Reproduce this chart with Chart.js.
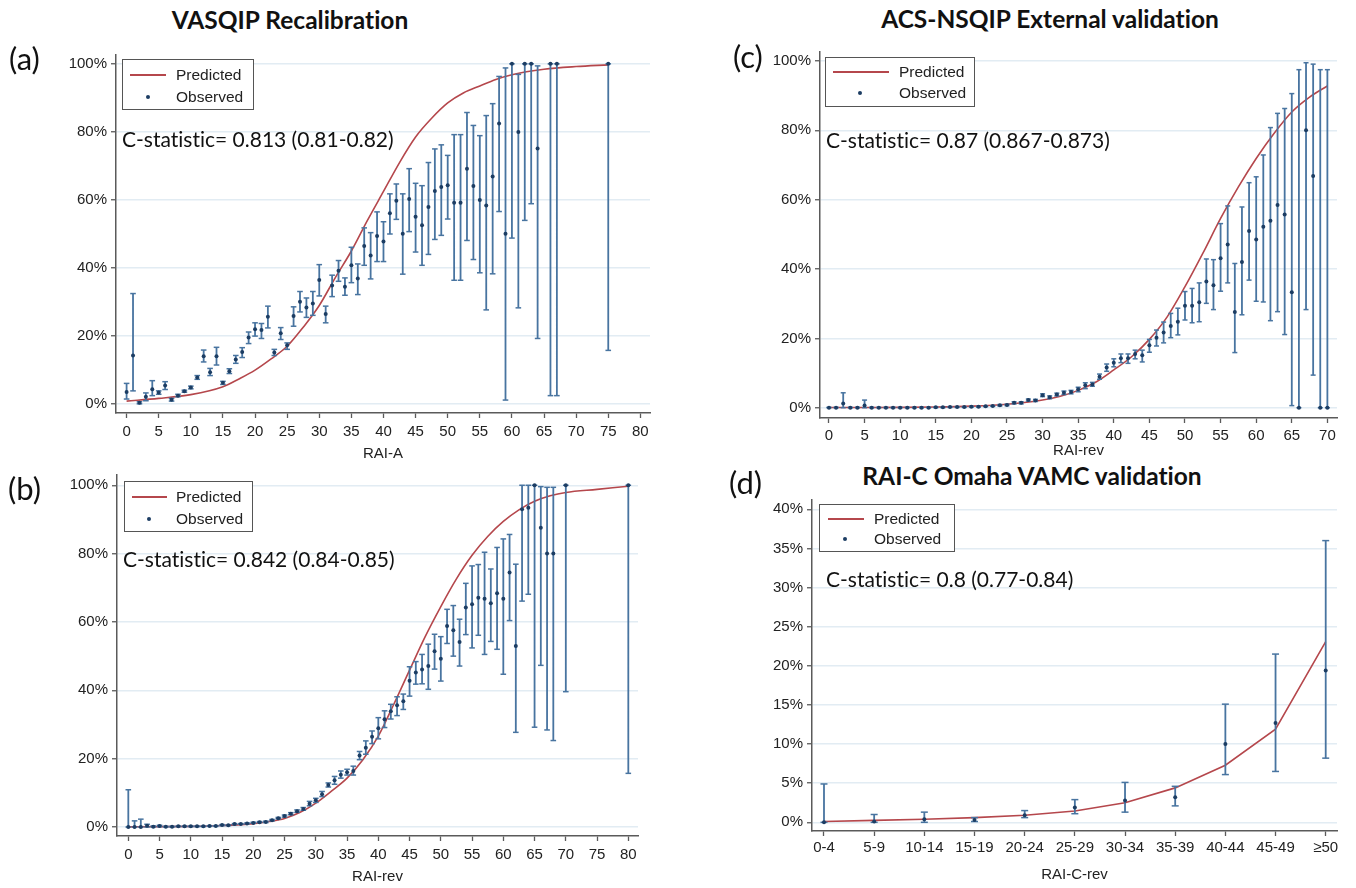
<!DOCTYPE html>
<html>
<head>
<meta charset="utf-8">
<script src="https://cdn.jsdelivr.net/npm/chart.js@4.4.0/dist/chart.umd.min.js"></script>
<style>
  body { margin: 0; background: #fff; width: 1356px; height: 888px; position: relative; overflow: hidden; font-family: "Liberation Sans", Arial, sans-serif; }
  canvas { position: absolute; }
  .txt { position: absolute; line-height: 1; white-space: nowrap; color: #111; font-variant-ligatures: none; }
  .title { font-family: Lato, sans-serif; font-weight: bold; font-size: 24.5px; }
  .letter { font-family: Lato, sans-serif; font-size: 31px; }
  .cstat { font-family: Lato, sans-serif; font-size: 21px; }
  .legend { position: absolute; border: 1px solid #555; background: #fff; }
  .legend .lbl { position: absolute; font-size: 15.5px; line-height: 1; color: #222; transform: translateY(-50%); }
  .legend .ln { position: absolute; height: 2px; background: #b5474c; transform: translateY(-50%); }
  .legend .dot { position: absolute; width: 4px; height: 4px; border-radius: 2px; background: #1c3d63; transform: translate(-50%, -50%); }
</style>
</head>
<body>
<canvas id="chartA" width="660" height="418" style="left:0px; top:45px;"></canvas>
<canvas id="chartB" width="648" height="421" style="left:0px; top:465px;"></canvas>
<canvas id="chartC" width="647" height="418" style="left:700px; top:42px;"></canvas>
<canvas id="chartD" width="647" height="394" style="left:700px; top:490px;"></canvas>
<script>
// (a) VASQIP recalibration, RAI-A
const aObsX = [0,1,2,3,4,5,6,7,8,9,10,11,12,13,14,15,16,17,18,19,20,21,22,23,24,25,26,27,28,29,30,31,32,33,34,35,36,37,38,39,40,41,42,43,44,45,46,47,48,49,50,51,52,53,54,55,56,57,58,59,60,61,62,63,64,66,67,75];
const aObs = [3.6,14.3,0.4,2.2,4.4,3.4,5.5,1.3,2.5,3.8,4.9,7.8,14.1,9.4,14.1,6.3,9.7,13.1,15.3,19.6,22.0,21.8,25.7,15.2,20.8,17.3,25.9,30.1,28.4,29.6,36.5,26.5,34.9,39.2,34.5,40.8,36.9,46.5,43.7,49.4,47.8,56.1,59.8,50.1,60.3,55.1,52.6,57.9,62.6,63.8,64.3,59.2,59.2,69.2,64.1,60.0,58.4,66.9,82.5,50.1,100,80.0,100,100,75.1,100,100,100];
const aLo = [1.5,3.9,0.1,1.0,2.5,2.9,4.3,0.9,2.2,3.5,4.5,7.3,12.4,8.4,11.5,5.8,9.0,12.0,13.7,17.8,20.0,19.3,22.4,14.3,19.0,16.1,22.9,27.1,25.5,26.1,31.8,23.9,31.6,36.1,32.0,35.7,32.2,40.8,36.8,41.9,41.9,50.0,54.3,38.2,50.7,44.7,40.8,44.0,48.4,49.6,54.4,36.4,36.4,48.1,42.5,38.6,27.7,38.3,56.6,1.2,48.8,28.3,54.0,58.9,19.3,2.5,2.5,15.8];
const aHi = [6.1,32.5,0.7,3.3,6.9,3.9,6.6,1.7,2.9,4.1,5.3,8.4,15.9,10.5,16.7,6.7,10.4,14.3,16.6,21.2,23.9,23.7,28.8,16.1,22.5,18.0,28.6,33.1,31.2,33.1,41.0,28.8,37.9,42.2,37.1,46.1,41.2,51.8,50.4,56.5,53.6,61.8,64.7,61.8,69.2,64.9,64.2,71.0,75.0,76.2,73.1,79.2,79.2,85.7,81.9,78.9,84.8,88.3,96.3,98.8,100,96.9,100,100,99.4,100,100,100];
const aPredX = [0,5,10,15,17.5,20,22.5,25,27.5,30,32.5,35,37.5,40,42.5,45,47.5,50,52.5,55,57.5,60,65,70,75];
const aPred = [0.9,1.7,2.8,5.1,7.4,10.0,13.3,17.0,22.6,29.0,37.2,45.0,54.0,62.5,71.0,78.5,84.0,88.5,91.5,93.5,95.4,96.8,98.4,99.2,99.7];
const aXTicks = [0,5,10,15,20,25,30,35,40,45,50,55,60,65,70,75,80];

// (b) VASQIP recalibration, RAI-rev
const bObsX = [0,1,2,3,4,5,6,7,8,9,10,11,12,13,14,15,16,17,18,19,20,21,22,23,24,25,26,27,28,29,30,31,32,33,34,35,36,37,38,39,40,41,42,43,44,45,46,47,48,49,50,51,52,53,54,55,56,57,58,59,60,61,62,63,64,65,66,67,68,70,80];
const bObs = [0,0,0,0.4,0.1,0.3,0.1,0.1,0.2,0.2,0.2,0.2,0.2,0.3,0.3,0.6,0.5,0.9,0.9,1.0,1.2,1.4,1.5,2.0,2.6,3.2,3.9,4.6,5.3,6.8,7.8,9.6,12.3,13.7,15.3,16.0,16.4,20.9,23.2,26.4,28.9,31.5,33.9,35.6,36.8,42.8,45.2,46.1,47.1,51.4,49.2,58.8,57.6,54.1,64.2,65.2,67.1,66.8,65.5,68.4,66.8,74.5,53.0,93.0,93.4,100,87.6,80.0,80.0,100,100];
const bLo = [0,0,0,0,0,0.1,0,0,0.1,0.1,0.1,0.1,0.1,0.2,0.2,0.4,0.4,0.7,0.8,0.9,1.1,1.3,1.3,1.8,2.4,2.9,3.6,4.3,4.9,6.2,7.2,8.9,11.7,12.5,14.3,15.2,15.2,19.7,21.3,24.4,25.8,29.1,31.6,32.6,34.4,38.3,41.8,41.9,40.3,46.2,42.7,53.7,50.0,47.1,56.3,52.4,56.1,50.5,54.3,52.0,44.7,60.4,27.7,66.1,68.1,29.2,47.3,28.4,25.3,39.6,15.7];
const bHi = [10.9,1.8,2.3,0.8,0.3,0.5,0.2,0.2,0.3,0.3,0.3,0.3,0.3,0.4,0.4,0.7,0.6,1.0,1.0,1.2,1.4,1.6,1.7,2.2,2.8,3.5,4.2,5.0,5.7,7.5,8.4,10.4,12.9,14.8,16.4,16.9,17.8,22.1,25.2,28.1,32.0,34.0,35.9,38.1,38.9,46.9,48.4,50.5,53.5,56.4,55.7,63.7,64.8,60.8,71.3,76.4,76.8,80.4,75.5,81.8,84.3,85.6,76.9,100,100,100,99.6,99.4,99.4,100,100];
const bPredX = [0,5,10,15,20,22.5,25,27.5,30,32.5,35,37.5,40,42.5,45,47.5,50,52.5,55,57.5,60,62.5,65,67.5,70,75,80];
const bPred = [0.05,0.1,0.2,0.45,1.0,1.6,2.5,4.3,7.0,10.5,14.3,19.6,26.6,36.0,45.9,55.7,64.5,72.6,79.5,85.0,89.4,92.8,95.3,96.9,97.9,98.8,99.7];
const bXTicks = [0,5,10,15,20,25,30,35,40,45,50,55,60,65,70,75,80];

// (c) ACS-NSQIP external validation, RAI-rev
const cObsX = [0,1,2,3,4,5,6,7,8,9,10,11,12,13,14,15,16,17,18,19,20,21,22,23,24,25,26,27,28,29,30,31,32,33,34,35,36,37,38,39,40,41,42,43,44,45,46,47,48,49,50,51,52,53,54,55,56,57,58,59,60,61,62,63,64,65,66,67,68,69,70];
const cObs = [0,0,1.2,0,0,0.6,0,0,0,0,0,0,0,0,0,0.1,0.1,0.2,0.2,0.2,0.3,0.3,0.4,0.5,0.7,0.8,1.4,1.4,2.2,2.1,3.6,3.0,3.8,4.3,4.5,5.3,6.5,6.7,8.9,11.6,13.0,14.3,14.3,15.5,15.1,18.0,20.2,21.7,23.6,24.8,29.4,29.4,30.4,36.4,35.3,43.1,47.1,27.6,42.0,51.0,48.5,52.2,53.9,58.5,55.7,33.3,0,80.0,66.8,0,0];
const cLo = [0,0,0,0,0,0,0,0,0,0,0,0,0,0,0,0,0,0.1,0.1,0.1,0.2,0.2,0.3,0.4,0.5,0.6,1.1,1.1,1.9,1.8,3.2,2.6,3.4,3.8,4.0,4.6,5.5,6.2,8.2,10.5,11.8,13.0,12.8,14.1,13.2,16.0,17.8,18.7,20.2,21.0,25.3,24.5,24.8,30.1,28.3,33.6,36.0,15.9,26.8,36.8,30.7,30.5,25.1,27.7,21.1,0.6,0,28.3,9.4,0,0];
const cHi = [0.1,0.1,4.3,0.1,0.1,2.2,0.1,0.1,0.1,0.1,0.1,0.1,0.1,0.1,0.1,0.2,0.2,0.3,0.3,0.3,0.4,0.4,0.5,0.6,0.9,1.0,1.7,1.7,2.5,2.4,4.0,3.4,4.2,4.8,5.0,5.9,7.2,7.3,9.7,12.6,14.1,15.5,15.5,16.6,16.6,19.7,22.4,24.7,27.2,28.7,33.5,34.4,36.0,42.9,42.7,53.1,58.2,41.6,57.9,64.9,66.6,72.9,80.8,84.9,86.3,90.6,97.5,99.5,99.1,97.5,97.5];
const cPredX = [0,5,10,15,20,25,30,32.5,35,37.5,40,42.5,45,47.5,50,52.5,55,57.5,60,62.5,65,67.5,70];
const cPred = [0.05,0.07,0.1,0.2,0.45,1.0,2.2,3.3,5.0,7.4,10.9,14.7,19.7,26.2,34.9,44.5,54.6,63.7,71.9,79.1,85.3,89.6,92.8];
const cXTicks = [0,5,10,15,20,25,30,35,40,45,50,55,60,65,70];

// (d) RAI-C Omaha VAMC validation, grouped RAI-C-rev
const dCats = ['0-4','5-9','10-14','15-19','20-24','25-29','30-34','35-39','40-44','45-49','\u226550'];
const dObs = [0,0.1,0.4,0.3,0.9,1.9,2.8,3.2,10.0,12.7,19.4];
const dLo = [0,0,0,0.1,0.6,1.1,1.3,2.1,6.1,6.5,8.2];
const dHi = [4.9,1.0,1.3,0.6,1.5,2.9,5.1,4.6,15.1,21.5,36.0];
const dPred = [0.1,0.25,0.4,0.6,0.9,1.45,2.5,4.4,7.3,11.9,23.1];

const pctTicks = [0,20,40,60,80,100];
const dYTicks = [0,5,10,15,20,25,30,35,40];

const RED = '#b5474c';
const BAR = '#4874a0';
const DOT = '#1c3d63';
const GRID = '#e2ecf3';
const AXIS = '#5a5a5a';

function pairs(xs, ys) {
  return xs.map((x, i) => ({ x: x, y: ys[i] }));
}

// vertical whiskers as one broken line
function stems(xs, lo, hi) {
  const pts = [];
  xs.forEach((x, i) => {
    pts.push({ x: x, y: lo[i] }, { x: x, y: hi[i] }, { x: x, y: null });
  });
  return pts;
}

function caps(xs, lo, hi) {
  const pts = [];
  xs.forEach((x, i) => {
    pts.push({ x: x, y: lo[i] }, { x: x, y: hi[i] });
  });
  return pts;
}

function makePanel(id, cfg) {
  const tickFont = { family: 'Liberation Sans', size: 15 };
  new Chart(document.getElementById(id), {
    type: 'scatter',
    data: {
      datasets: [
        {
          data: pairs(cfg.obsX, cfg.obs),
          pointStyle: 'circle',
          pointRadius: 2,
          pointBackgroundColor: DOT,
          pointBorderWidth: 0
        },
        {
          data: caps(cfg.obsX, cfg.lo, cfg.hi),
          pointStyle: 'line',
          pointRadius: cfg.capR,
          pointBorderColor: BAR,
          pointBorderWidth: 1.5
        },
        {
          data: stems(cfg.obsX, cfg.lo, cfg.hi),
          showLine: true,
          spanGaps: false,
          borderColor: BAR,
          borderWidth: 1.8,
          pointRadius: 0
        },
        {
          data: pairs(cfg.predX, cfg.pred),
          showLine: true,
          borderColor: RED,
          borderWidth: 1.6,
          pointRadius: 0,
          cubicInterpolationMode: cfg.smooth ? 'monotone' : 'default',
          tension: 0
        }
      ]
    },
    options: {
      responsive: false,
      animation: false,
      events: [],
      layout: { padding: { top: 10, right: 10, left: 0, bottom: 0 } },
      plugins: { legend: { display: false }, tooltip: { enabled: false } },
      scales: {
        x: {
          type: 'linear',
          min: cfg.xMin,
          max: cfg.xMax,
          afterBuildTicks: (s) => { s.ticks = cfg.xTicks.map(v => ({ value: v })); },
          afterFit: (s) => { s.height = cfg.xH; s.paddingLeft = 0; s.paddingRight = 0; },
          grid: { drawOnChartArea: false, drawTicks: true, tickLength: 5, tickColor: AXIS, tickWidth: 1.3 },
          border: { color: AXIS, width: 1.5 },
          ticks: {
            font: tickFont, color: '#222', padding: cfg.xPad, maxRotation: 0, autoSkip: false,
            callback: cfg.xLabel || ((v) => v)
          },
          title: {
            display: true, text: cfg.xTitle, color: '#222',
            font: { family: 'Liberation Sans', size: 15 }, padding: { top: 0, bottom: 0 }
          }
        },
        y: {
          min: cfg.yMin,
          max: cfg.yMax,
          afterBuildTicks: (s) => { s.ticks = cfg.yTicks.map(v => ({ value: v })); },
          afterFit: (s) => { s.width = cfg.yW; s.paddingTop = 0; s.paddingBottom = 0; },
          grid: { color: GRID, lineWidth: 1.5, drawTicks: true, tickLength: 5, tickColor: AXIS, tickWidth: 1.3 },
          border: { color: AXIS, width: 1.5 },
          ticks: { font: tickFont, color: '#222', padding: 4, callback: (v) => v + '%' }
        }
      }
    }
  });
}

makePanel('chartA', {
  obsX: aObsX, obs: aObs, lo: aLo, hi: aHi, predX: aPredX, pred: aPred, smooth: true,
  xMin: -1.65, xMax: 81.5, yMin: -2.6, yMax: 102.6, xTicks: aXTicks, yTicks: pctTicks,
  xTitle: 'RAI-A', yW: 116, xH: 50, xPad: 5, capR: 2.8
});
makePanel('chartB', {
  obsX: bObsX, obs: bObs, lo: bLo, hi: bHi, predX: bPredX, pred: bPred, smooth: true,
  xMin: -1.81, xMax: 81.55, yMin: -2.63, yMax: 103.0, xTicks: bXTicks, yTicks: pctTicks,
  xTitle: 'RAI-rev', yW: 117, xH: 50, xPad: 5, capR: 2.8
});
makePanel('chartC', {
  obsX: cObsX, obs: cObs, lo: cLo, hi: cHi, predX: cPredX, pred: cPred, smooth: true,
  xMin: -1.26, xMax: 71.35, yMin: -2.97, yMax: 102.6, xTicks: cXTicks, yTicks: pctTicks,
  xTitle: 'RAI-rev', yW: 120, xH: 42, xPad: 4, capR: 2.5
});
const dX = dCats.map((c, i) => i);
makePanel('chartD', {
  obsX: dX, obs: dObs, lo: dLo, hi: dHi, predX: dX, pred: dPred, smooth: false,
  xMin: -0.239, xMax: 10.225, yMin: -1.11, yMax: 41.19, xTicks: dX, yTicks: dYTicks,
  xLabel: (v) => dCats[v], xTitle: 'RAI-C-rev', yW: 112, xH: 53, xPad: 3, capR: 3.5
});

// texts placed on the page
function addText(text, cls, x, y, center) {
  const el = document.createElement('div');
  el.className = 'txt ' + cls;
  el.textContent = text;
  el.style.left = x + 'px';
  el.style.top = y + 'px';
  el.style.transform = center ? 'translate(-50%, -50%)' : 'translateY(-50%)';
  document.body.appendChild(el);
}

addText('VASQIP Recalibration', 'title', 290, 20, true);
addText('ACS-NSQIP External validation', 'title', 1050, 19, true);
addText('RAI-C Omaha VAMC validation', 'title', 1032, 476, true);
addText('(a)', 'letter', 9, 58, false);
addText('(b)', 'letter', 8, 488, false);
addText('(c)', 'letter', 733, 56, false);
addText('(d)', 'letter', 729, 482, false);
addText('C-statistic= 0.813 (0.81-0.82)', 'cstat', 122, 138, false);
addText('C-statistic= 0.842 (0.84-0.85)', 'cstat', 123, 558, false);
addText('C-statistic= 0.87 (0.867-0.873)', 'cstat', 826, 139, false);
addText('C-statistic= 0.8 (0.77-0.84)', 'cstat', 826, 578, false);

// legend boxes
function addLegend(l, t, w, h, lineX0, lineX1, row1, row2, dotX, textX) {
  const box = document.createElement('div');
  box.className = 'legend';
  box.style.left = l + 'px';
  box.style.top = t + 'px';
  box.style.width = w + 'px';
  box.style.height = h + 'px';
  box.innerHTML =
    '<div class="ln" style="left:' + lineX0 + 'px; width:' + (lineX1 - lineX0) + 'px; top:' + row1 + 'px;"></div>' +
    '<div class="lbl" style="left:' + textX + 'px; top:' + row1 + 'px;">Predicted</div>' +
    '<div class="dot" style="left:' + dotX + 'px; top:' + row2 + 'px;"></div>' +
    '<div class="lbl" style="left:' + textX + 'px; top:' + row2 + 'px;">Observed</div>';
  document.body.appendChild(box);
}

addLegend(122, 59, 130, 49, 7, 43, 15, 37, 25, 53);
addLegend(124, 481, 127, 49, 7, 42, 15, 37, 24, 51);
addLegend(825, 57, 148, 48, 7, 63, 14, 35, 34, 73);
addLegend(819, 504, 134, 46, 8, 44, 14, 34, 25, 54);
</script>
</body>
</html>
